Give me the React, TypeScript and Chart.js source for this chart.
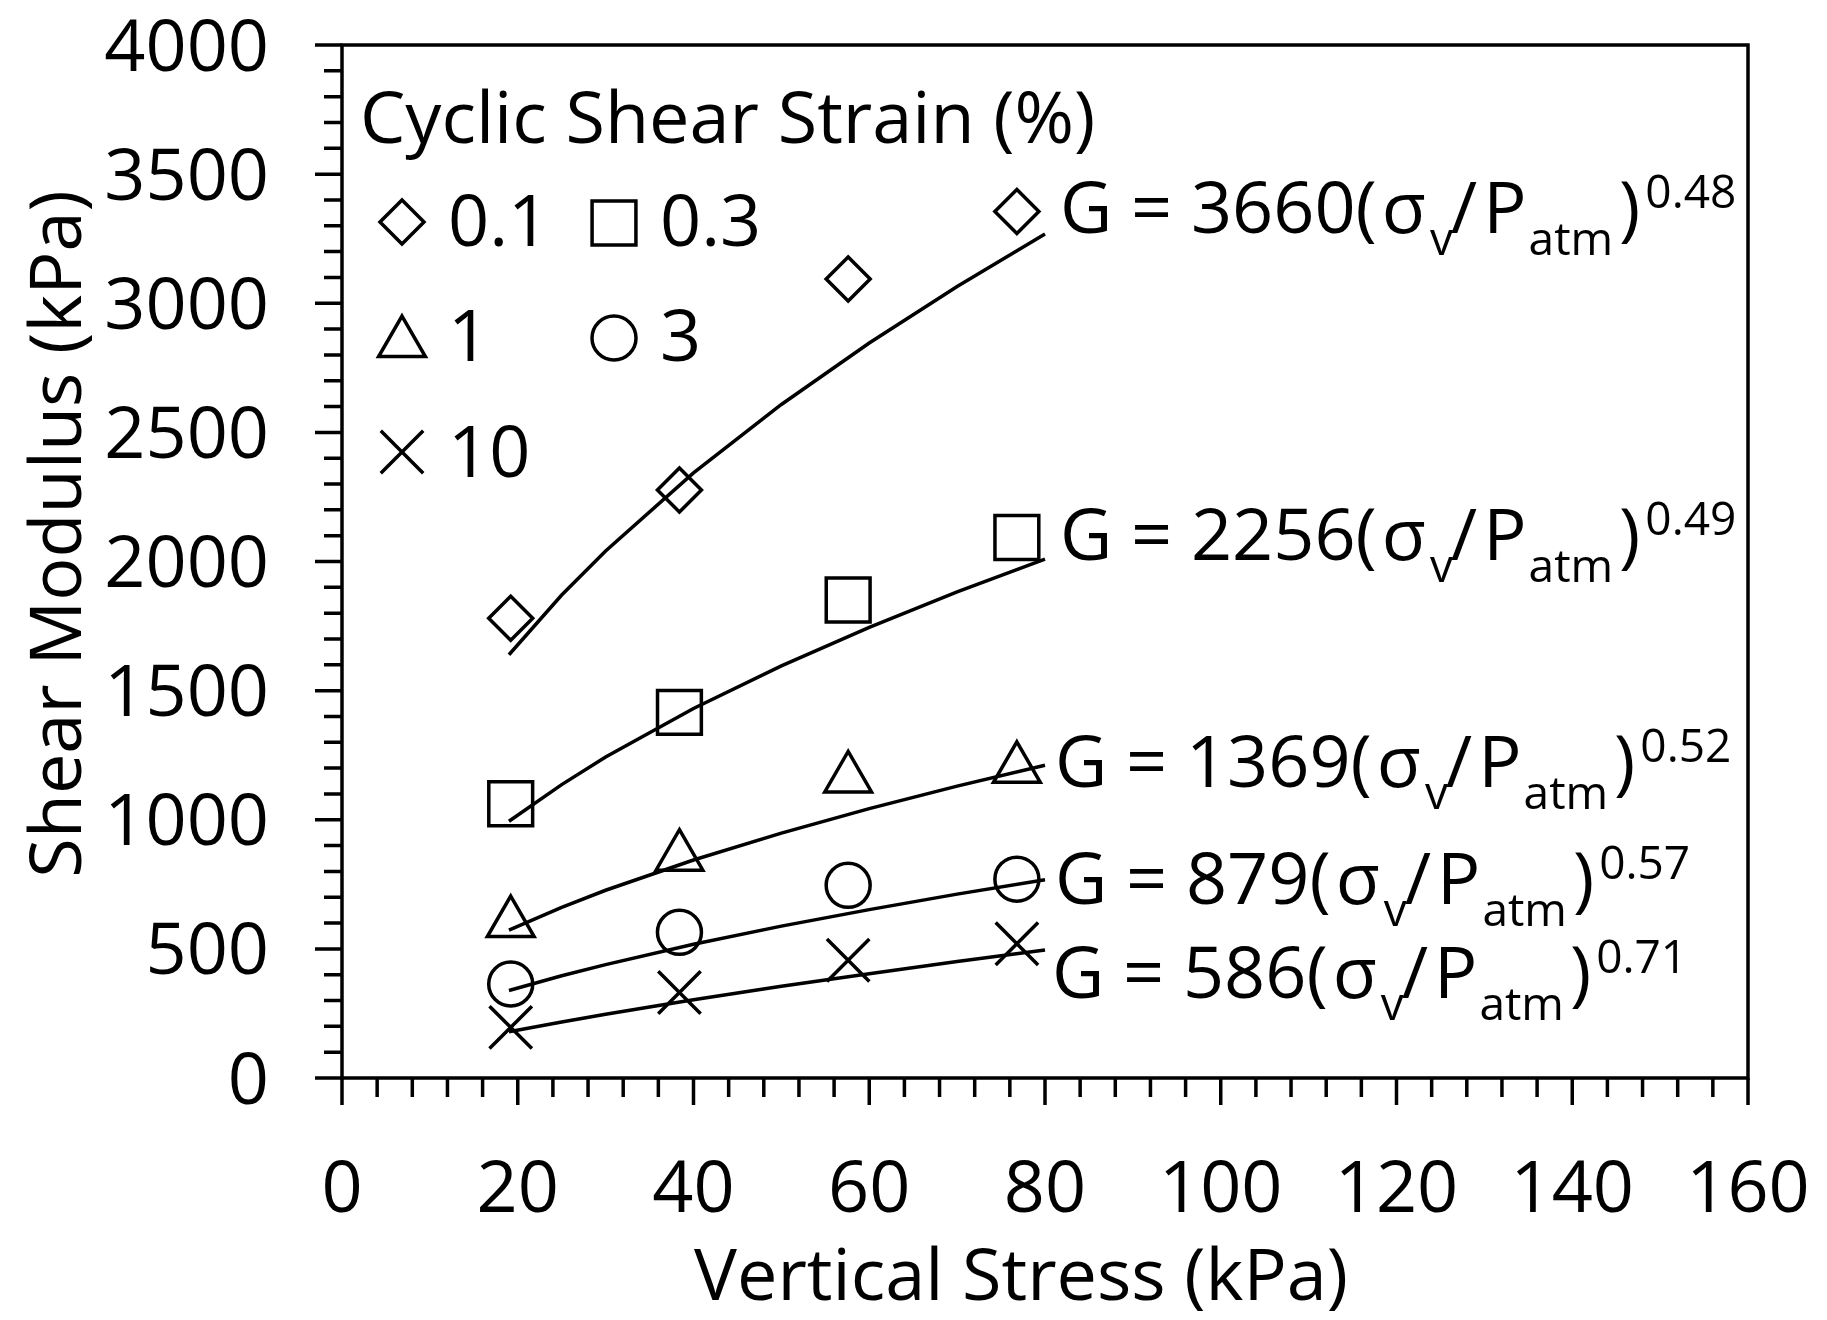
import React, { useEffect, useRef } from 'react';
import { Chart, registerables } from 'chart.js';

Chart.register(...registerables);

// ---------- data ----------
const strainLabels = ['0.1', '0.3', '1', '3', '10'];
const stressPoints = [19.2, 38.4, 57.6, 76.8];
const gStrain01 = [1780, 2277, 3094, 3355];
const gStrain03 = [1062, 1416, 1851, 2093];
const gStrain1 = [600, 857, 1160, 1197];
const gStrain3 = [364, 564, 746, 770];
const gStrain10 = [196, 331, 456, 520];

const fitStress = [19, 25, 30, 40, 50, 60, 70, 80];
const fit01 = [1639, 1870, 2041, 2343, 2608, 2846, 3065, 3268];
const fit03 = [994, 1136, 1243, 1431, 1596, 1745, 1882, 2009];
const fit1 = [573, 661, 727, 844, 948, 1043, 1130, 1211];
const fit3 = [339, 396, 439, 518, 588, 652, 712, 768];
const fit10 = [179, 217, 247, 303, 355, 404, 451, 496];

const fitCoefficients = ['3660', '2256', '1369', '879', '586'];
const fitExponents = ['0.48', '0.49', '0.52', '0.57', '0.71'];

const xTickLabels = ['0', '20', '40', '60', '80', '100', '120', '140', '160'];
const yTickLabels = ['0', '500', '1000', '1500', '2000', '2500', '3000', '3500', '4000'];

const xTitle = 'Vertical Stress (kPa)';
const yTitle = 'Shear Modulus (kPa)';
const legendTitle = 'Cyclic Shear Strain (%)';

// ---------- styles ----------
const FAMILY = "'Open Sans', 'DejaVu Sans', sans-serif";
const MAIN = 72;
const SMALL = 46;
const STROKE = 3.5;
const markerStyles = ['rectRot', 'rect', 'triangle', 'circle', 'crossRot'];
const markerRadii = [22, 31, 27, 22, 30];
const legendSlots = [
  { mx: 402, my: 222, tx: 448, ty: 246 },
  { mx: 614, my: 223, tx: 660, ty: 246 },
  { mx: 402, my: 343, tx: 448, ty: 361 },
  { mx: 614, my: 338, tx: 660, ty: 361 },
  { mx: 402, my: 452, tx: 448, ty: 477 },
];
const eqSlots = [
  { x: 1060, y: 233 },
  { x: 1060, y: 560 },
  { x: 1055, y: 787 },
  { x: 1055, y: 904 },
  { x: 1052, y: 998 },
];

const seriesValues = [gStrain01, gStrain03, gStrain1, gStrain3, gStrain10];
const fitValues = [fit01, fit03, fit1, fit3, fit10];

function drawMarker(ctx: CanvasRenderingContext2D, style: string, cx: number, cy: number, r: number) {
  ctx.beginPath();
  if (style === 'rectRot') {
    ctx.moveTo(cx - r, cy);
    ctx.lineTo(cx, cy - r);
    ctx.lineTo(cx + r, cy);
    ctx.lineTo(cx, cy + r);
    ctx.closePath();
  } else if (style === 'rect') {
    const s = r * Math.SQRT1_2;
    ctx.rect(cx - s, cy - s, 2 * s, 2 * s);
  } else if (style === 'triangle') {
    ctx.moveTo(cx, cy - r);
    ctx.lineTo(cx + r * Math.sin((2 * Math.PI) / 3), cy - r * Math.cos((2 * Math.PI) / 3));
    ctx.lineTo(cx + r * Math.sin((4 * Math.PI) / 3), cy - r * Math.cos((4 * Math.PI) / 3));
    ctx.closePath();
  } else if (style === 'circle') {
    ctx.arc(cx, cy, r, 0, Math.PI * 2);
  } else {
    const d = r * Math.SQRT1_2;
    ctx.moveTo(cx - d, cy - d);
    ctx.lineTo(cx + d, cy + d);
    ctx.moveTo(cx + d, cy - d);
    ctx.lineTo(cx - d, cy + d);
  }
  ctx.stroke();
}

function drawEquation(ctx: CanvasRenderingContext2D, x: number, y: number, coef: string, exp: string) {
  const main = `${MAIN}px ${FAMILY}`;
  const small = `${SMALL}px ${FAMILY}`;
  const segs: [string, string, number, number][] = [
    [`G = ${coef}(`, main, 0, 0],
    ['σ', main, 0, 5],
    ['v', small, 22, 4],
    ['/', main, 0, -2],
    ['P', main, 0, 6],
    ['atm', small, 22, 2],
    [')', main, 0, 6],
    [exp, small, -25, 5],
  ];
  let cx = x;
  ctx.textAlign = 'left';
  ctx.textBaseline = 'alphabetic';
  for (const [t, f, dy, gap] of segs) {
    cx += gap;
    ctx.font = f;
    ctx.fillText(t, cx, y + dy);
    cx += ctx.measureText(t).width;
  }
}

const decorPlugin = {
  id: 'decor',
  afterDraw(chart: any) {
    const { ctx, chartArea: a, scales } = chart;
    const xs = scales.x;
    const ys = scales.y;
    ctx.save();
    ctx.strokeStyle = '#000';
    ctx.fillStyle = '#000';
    ctx.lineWidth = STROKE;
    ctx.lineCap = 'butt';
    // frame
    ctx.strokeRect(a.left, a.top, a.right - a.left, a.bottom - a.top);
    // ticks
    ctx.beginPath();
    for (const t of ys.ticks) {
      const py = ys.getPixelForValue(t.value);
      const len = t.value % 500 === 0 ? 27 : 18;
      ctx.moveTo(a.left - len, py);
      ctx.lineTo(a.left, py);
    }
    for (const t of xs.ticks) {
      const px = xs.getPixelForValue(t.value);
      const len = t.value % 20 === 0 ? 27 : 19;
      ctx.moveTo(px, a.bottom);
      ctx.lineTo(px, a.bottom + len);
    }
    ctx.stroke();

    // axis titles
    ctx.font = `${MAIN}px ${FAMILY}`;
    ctx.textAlign = 'center';
    ctx.textBaseline = 'alphabetic';
    ctx.fillText(xTitle, 1021, 1300);
    ctx.save();
    ctx.translate(81, 534);
    ctx.rotate(-Math.PI / 2);
    ctx.fillText(yTitle, 0, 0);
    ctx.restore();

    // legend
    ctx.textAlign = 'left';
    ctx.fillText(legendTitle, 360, 143);
    strainLabels.forEach((lab, i) => {
      const s = legendSlots[i];
      ctx.lineWidth = STROKE;
      drawMarker(ctx, markerStyles[i], s.mx, s.my, markerRadii[i]);
      ctx.font = `${MAIN}px ${FAMILY}`;
      ctx.textAlign = 'left';
      ctx.fillText(lab, s.tx, s.ty);
    });

    // equations
    fitCoefficients.forEach((c, i) => {
      drawEquation(ctx, eqSlots[i].x, eqSlots[i].y, c, fitExponents[i]);
    });
    ctx.restore();
  },
};

export default function App() {
  const ref = useRef<HTMLCanvasElement>(null);

  useEffect(() => {
    const canvas = ref.current;
    if (!canvas) return;
    Chart.defaults.color = '#000';
    Chart.defaults.font.family = FAMILY;

    const markerSets = seriesValues.map((vals, i) => ({
      label: strainLabels[i],
      data: stressPoints.map((x, k) => ({ x, y: vals[k] })),
      showLine: false,
      pointStyle: markerStyles[i],
      pointRadius: markerRadii[i],
      pointHoverRadius: markerRadii[i],
      pointBorderWidth: STROKE,
      pointBorderColor: '#000',
      pointBackgroundColor: 'rgba(0,0,0,0)',
      borderColor: '#000',
      backgroundColor: 'rgba(0,0,0,0)',
    }));
    const fitSets = fitValues.map((vals, i) => ({
      label: `fit ${strainLabels[i]}`,
      data: fitStress.map((x, k) => ({ x, y: vals[k] })),
      showLine: true,
      pointRadius: 0,
      pointHoverRadius: 0,
      borderColor: '#000',
      borderWidth: STROKE,
      tension: 0,
      fill: false,
    }));

    const zeroPad = (s: any) => {
      s.paddingTop = 0;
      s.paddingBottom = 0;
      s.paddingLeft = 0;
      s.paddingRight = 0;
    };

    const chart = new Chart(canvas, {
      type: 'scatter',
      data: { datasets: [...fitSets, ...markerSets] as any },
      options: {
        responsive: false,
        maintainAspectRatio: false,
        animation: false,
        layout: { padding: { top: 45, right: 79, left: 0, bottom: 0 } },
        plugins: {
          legend: { display: false },
          tooltip: { enabled: false },
          title: { display: false },
        },
        scales: {
          x: {
            type: 'linear',
            min: 0,
            max: 160,
            grid: { display: false },
            border: { display: false },
            ticks: {
              stepSize: 4,
              maxTicksLimit: 200,
              autoSkip: false,
              maxRotation: 0,
              minRotation: 0,
              padding: 62,
              color: '#000',
              font: { family: FAMILY, size: MAIN },
              callback: (v: any) => (xTickLabels.includes(String(v)) ? String(v) : ''),
            },
            afterFit: (s: any) => {
              s.height = 242;
              zeroPad(s);
            },
          },
          y: {
            type: 'linear',
            min: 0,
            max: 4000,
            grid: { display: false },
            border: { display: false },
            ticks: {
              stepSize: 100,
              maxTicksLimit: 200,
              autoSkip: false,
              padding: 65,
              labelOffset: 5,
              color: '#000',
              font: { family: FAMILY, size: MAIN },
              callback: (v: any) => (yTickLabels.includes(String(v)) ? String(v) : ''),
            },
            afterFit: (s: any) => {
              s.width = 342;
              zeroPad(s);
            },
          },
        },
      },
      plugins: [decorPlugin],
    });
    return () => chart.destroy();
  }, []);

  return (
    <div style={{ position: 'absolute', left: 0, top: 0, width: 1827, height: 1320, background: '#fff' }}>
      <canvas ref={ref} width={1827} height={1320} style={{ display: 'block', width: 1827, height: 1320 }} />
    </div>
  );
}
